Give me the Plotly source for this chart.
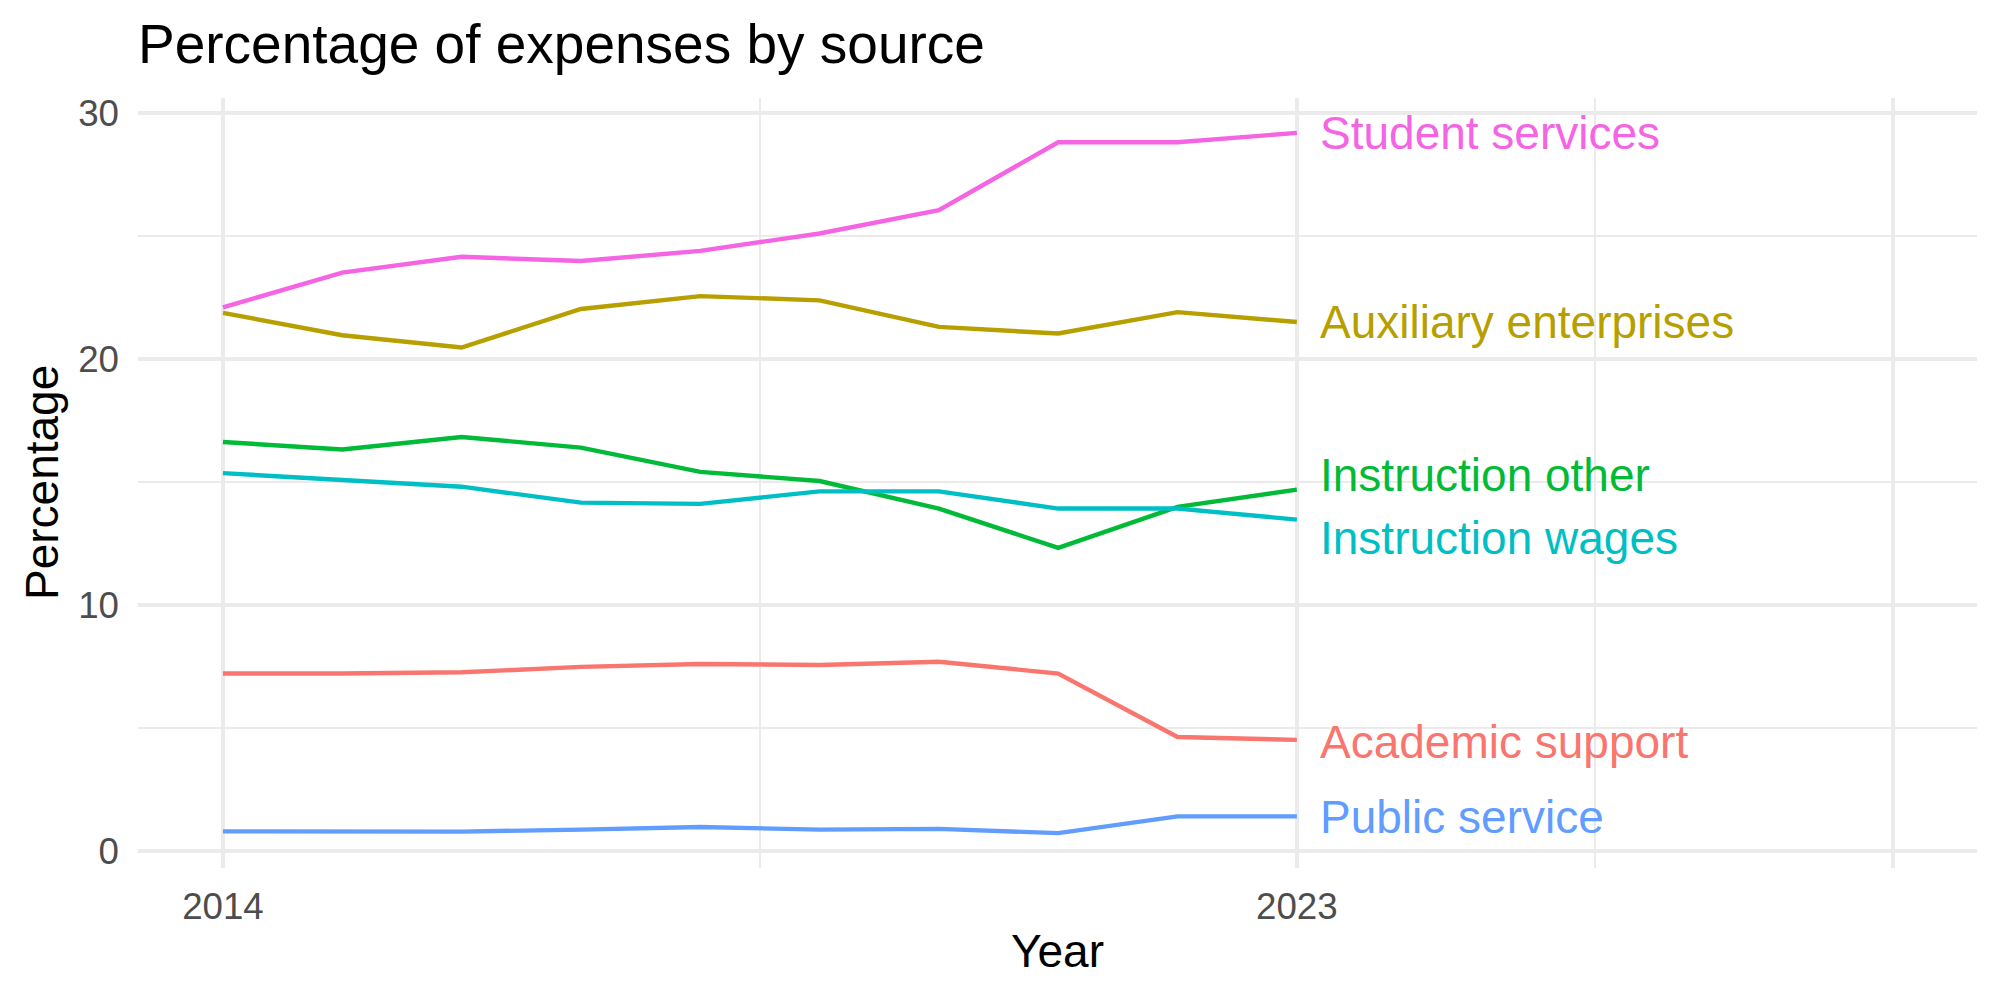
import plotly.graph_objects as go

years = [2014, 2015, 2016, 2017, 2018, 2019, 2020, 2021, 2022, 2023]

categories = ["Academic support", "Auxiliary enterprises", "Instruction other",
              "Instruction wages", "Public service", "Student services"]

academic_support = [7.22, 7.22, 7.27, 7.49, 7.61, 7.57, 7.70, 7.22, 4.64, 4.52]
auxiliary_enterprises = [21.89, 20.98, 20.48, 22.05, 22.57, 22.40, 21.32, 21.05, 21.92, 21.52]
instruction_other = [16.64, 16.33, 16.84, 16.41, 15.42, 15.05, 13.93, 12.33, 14.00, 14.70]
instruction_wages = [15.37, 15.11, 14.82, 14.17, 14.12, 14.63, 14.63, 13.93, 13.93, 13.48]
public_service = [0.80, 0.80, 0.79, 0.87, 0.98, 0.87, 0.90, 0.73, 1.41, 1.41]
student_services = [22.11, 23.53, 24.17, 24.00, 24.41, 25.12, 26.07, 28.83, 28.83, 29.21]

# label positions (repelled) at the last year
label_y = [4.45, 21.52, 15.28, 12.73, 1.37, 29.21]

x_tickvals = [2014, 2023, 2028]
x_ticktext = ["2014", "2023", ""]
x_minor = [2018.5, 2025.5]
y_tickvals = [0, 10, 20, 30]
y_minor = [5, 15, 25]

colors = ["#F8766D", "#B79F00", "#00BA38", "#00BFC4", "#619CFF", "#F564E3"]
series = [academic_support, auxiliary_enterprises, instruction_other,
          instruction_wages, public_service, student_services]

FONT = "Liberation Sans, Arial, Helvetica, sans-serif"

fig = go.Figure()
for name, vals, col in zip(categories, series, colors):
    fig.add_trace(go.Scatter(x=years, y=vals, mode="lines", name=name,
                             line=dict(color=col, width=4.4), showlegend=False))

for name, ly, col in zip(categories, label_y, colors):
    fig.add_annotation(x=years[-1], y=ly, xref="x", yref="y", text=name,
                       showarrow=False, xanchor="left", yanchor="middle",
                       xshift=21, font=dict(family=FONT, size=46, color=col))

W, H = 2000, 1000
ml, mr, mt, mb = 138, 23, 98, 132
pw = W - ml - mr
ph = H - mt - mb

fig.add_annotation(text="Year", xref="paper", yref="paper", x=0.5,
                   y=(ph - (951 - mt)) / ph, showarrow=False,
                   xanchor="center", yanchor="middle",
                   font=dict(family=FONT, size=46, color="black"))
fig.add_annotation(text="Percentage", xref="paper", yref="paper",
                   x=(42 - ml) / pw, y=0.5, showarrow=False, textangle=-90,
                   xanchor="center", yanchor="middle",
                   font=dict(family=FONT, size=46, color="black"))

grid = "#EBEBEB"
fig.update_layout(
    width=W, height=H,
    margin=dict(l=ml, r=mr, t=mt, b=mb, pad=0),
    paper_bgcolor="white", plot_bgcolor="white",
    title=dict(text="Percentage of expenses by source", xref="paper", x=0,
               xanchor="left", yref="container", y=1 - 44 / H, yanchor="middle",
               font=dict(family=FONT, size=55, color="black")),
    xaxis=dict(range=[2013.288, 2028.70], tickmode="array", tickvals=x_tickvals,
               ticktext=x_ticktext, showgrid=True, gridcolor=grid, gridwidth=4,
               zeroline=False, showline=False, ticks="",
               ticklabelstandoff=13,
               tickfont=dict(family=FONT, size=36.7, color="#4D4D4D"),
               minor=dict(tickmode="array", tickvals=x_minor, showgrid=True,
                          gridcolor=grid, gridwidth=2.2, ticks="")),
    yaxis=dict(range=[-0.69, 30.63], tickmode="array", tickvals=y_tickvals,
               showgrid=True, gridcolor=grid, gridwidth=4,
               zeroline=False, showline=False, ticks="",
               ticklabelstandoff=18,
               tickfont=dict(family=FONT, size=36.7, color="#4D4D4D"),
               minor=dict(tickmode="array", tickvals=y_minor, showgrid=True,
                          gridcolor=grid, gridwidth=2.2, ticks="")),
)

fig.write_html("out.html")
